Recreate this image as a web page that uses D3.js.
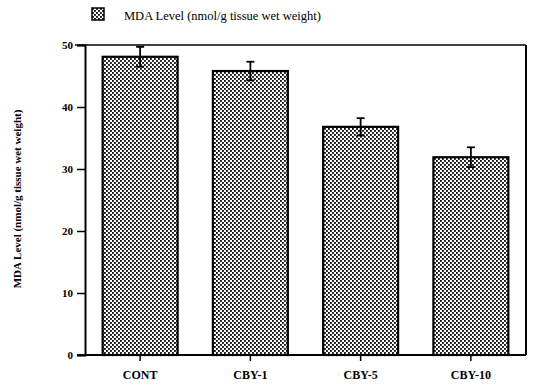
<!DOCTYPE html>
<html><head><meta charset="utf-8">
<script src="https://cdn.jsdelivr.net/npm/d3@7"></script>
<style>body{margin:0;background:#fff}svg{display:block}</style>
</head><body>
<script>
const categories = ["CONT", "CBY-1", "CBY-5", "CBY-10"];
const mdaValues = [48.1, 45.8, 36.8, 31.9];
const mdaErrors = [1.6, 1.5, 1.4, 1.6];
const yTicks = [0, 10, 20, 30, 40, 50];
const seriesName = "MDA Level (nmol/g tissue wet weight)";
const yTitle = "MDA Level (nmol/g tissue wet weight)";

const W = 533, H = 385;
const m = {left: 85, right: 7, top: 45, bottom: 30};
const svg = d3.select("body").append("svg").attr("width", W).attr("height", H);
const font = "'Liberation Serif','Times New Roman',serif";

const defs = svg.append("defs");
const pat = defs.append("pattern").attr("id", "dots").attr("patternUnits", "userSpaceOnUse")
  .attr("width", 4).attr("height", 4);
pat.append("rect").attr("width", 4).attr("height", 4).attr("fill", "#fff");
pat.append("rect").attr("x", 0).attr("y", 0).attr("width", 1.9).attr("height", 1.9).attr("fill", "#1a1a1a");
pat.append("rect").attr("x", 2).attr("y", 2).attr("width", 1.9).attr("height", 1.9).attr("fill", "#1a1a1a");

const x = d3.scaleBand().domain(categories).range([m.left, W - m.right]).paddingInner(0.32).paddingOuter(0.16);
const y = d3.scaleLinear().domain([0, 50]).range([H - m.bottom, m.top]);

// frame: top and right borders
svg.append("line").attr("x1", m.left - 10).attr("x2", W - m.right).attr("y1", y(50)).attr("y2", y(50))
  .attr("stroke", "#000").attr("stroke-width", 1.5);
svg.append("line").attr("x1", W - m.right).attr("x2", W - m.right).attr("y1", y(50)).attr("y2", y(0))
  .attr("stroke", "#000").attr("stroke-width", 2);

// bars
const g = svg.append("g");
g.selectAll("rect.bar").data(categories).join("rect").attr("class", "bar")
  .attr("x", d => x(d)).attr("width", x.bandwidth())
  .attr("y", (d, i) => y(mdaValues[i])).attr("height", (d, i) => y(0) - y(mdaValues[i]))
  .attr("fill", "url(#dots)").attr("stroke", "#000").attr("stroke-width", 2.2);

// error bars
const cap = 4;
categories.forEach((c, i) => {
  const cx = x(c) + x.bandwidth() / 2;
  const v = mdaValues[i], e = mdaErrors[i];
  const eg = svg.append("g").attr("stroke", "#000").attr("stroke-width", 1.8);
  eg.append("line").attr("x1", cx).attr("x2", cx).attr("y1", y(v + e)).attr("y2", y(v - e));
  eg.append("line").attr("x1", cx - cap).attr("x2", cx + cap).attr("y1", y(v + e)).attr("y2", y(v + e));
  eg.append("line").attr("x1", cx - cap).attr("x2", cx + cap).attr("y1", y(v - e)).attr("y2", y(v - e));
});

// y axis
const ya = svg.append("g").attr("transform", `translate(${m.left},0)`)
  .call(d3.axisLeft(y).tickValues(yTicks).tickSize(8).tickPadding(4));
ya.select(".domain").attr("stroke-width", 2);
ya.selectAll(".tick line").attr("stroke-width", 1.5);
ya.selectAll("text").attr("font-family", font).attr("font-size", 11).attr("font-weight", "bold").attr("fill", "#000");

// x axis
const xa = svg.append("g").attr("transform", `translate(0,${y(0)})`)
  .call(d3.axisBottom(x).tickSize(6).tickPadding(9));
xa.select(".domain").attr("d", `M${m.left - 8},0H${W - m.right}`).attr("stroke-width", 2);
xa.selectAll(".tick line").attr("stroke-width", 1.5);
xa.selectAll("text").attr("font-family", font).attr("font-size", 12).attr("font-weight", "bold").attr("fill", "#000");

// y title
svg.append("text").attr("transform", `translate(21,${(y(0) + y(50)) / 2 - 1}) rotate(-90)`)
  .attr("text-anchor", "middle").attr("font-family", font).attr("font-size", 11).attr("font-weight", "bold")
  .text(yTitle);

// legend
svg.append("rect").attr("x", 92).attr("y", 8).attr("width", 12).attr("height", 12)
  .attr("fill", "url(#dots)").attr("stroke", "#000").attr("stroke-width", 1.5);
svg.append("text").attr("x", 124).attr("y", 20).attr("font-family", font).attr("font-size", 12.5)
  .text(seriesName);
</script>
</body></html>
